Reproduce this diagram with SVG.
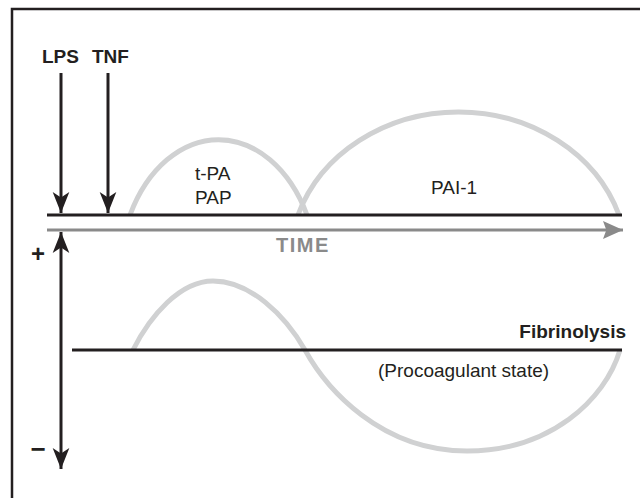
<svg xmlns="http://www.w3.org/2000/svg" width="640" height="498" viewBox="0 0 640 498">
<style>
.t{font-family:"Liberation Sans",Arial,sans-serif;fill:#231f20;font-size:19px}
.b{font-weight:bold}
.blk{stroke:#231f20;stroke-width:3;fill:none}
.gry{stroke:#8a8a8a;stroke-width:3;fill:none}
.crv{stroke:#d0d1d2;stroke-width:5;fill:none}
</style>
<defs>
<marker id="ah" markerUnits="userSpaceOnUse" markerWidth="24" markerHeight="20" viewBox="-20 -9 21 18" refX="0" refY="0" orient="auto">
<path d="M0,0 L-19,-7.5 L-14,0 L-19,7.5 Z" fill="#231f20"/>
</marker>
<marker id="gh" markerUnits="userSpaceOnUse" markerWidth="24" markerHeight="20" viewBox="-20 -9 21 18" refX="0" refY="0" orient="auto">
<path d="M0,0 L-18,-8 L-15,0 L-18,8 Z" fill="#8a8a8a"/>
</marker>
</defs>
<rect id="frame" x="12" y="9" width="640" height="500" fill="#fff" stroke="#231f20" stroke-width="2.5"/>

<g id="curves">
<path class="crv" d="M130,215 A100,141 0 0 1 307,215"/>
<path class="crv" d="M298,215 A169,150 0 0 1 619,215"/>
<path class="crv" d="M133,350 C150,316 180,281 213,281 C250,281 285,315 305,350 C326,388 380,451 467,451 C550,451 605,400 620,350"/>
</g>

<g id="connectors">
<line class="blk" x1="47" y1="215" x2="622" y2="215"/>
<line class="gry" x1="47" y1="230" x2="623" y2="230" marker-end="url(#gh)"/>
<line class="blk" x1="72" y1="350" x2="622" y2="350"/>
<line class="blk" x1="61" y1="73" x2="61" y2="213" marker-end="url(#ah)"/>
<line class="blk" x1="108" y1="73" x2="108" y2="213" marker-end="url(#ah)"/>
<line class="blk" x1="61" y1="340" x2="61" y2="232" marker-end="url(#ah)"/>
<line class="blk" x1="61" y1="340" x2="61" y2="469" marker-end="url(#ah)"/>
</g>

<g id="lps"><text class="t b" x="42" y="63">LPS</text></g>
<g id="tnf"><text class="t b" x="92" y="63">TNF</text></g>
<g id="tpa"><text class="t" x="195" y="180">t-PA</text><text class="t" x="195" y="204">PAP</text></g>
<g id="pai"><text class="t" x="431" y="194">PAI-1</text></g>
<g id="time"><text class="t b" x="276" y="252" style="fill:#8a8a8a;font-size:20px;letter-spacing:1.5px">TIME</text></g>
<g id="plus"><text class="t b" x="38" y="262" text-anchor="middle" style="font-size:24px">+</text></g>
<g id="minus"><text class="t b" x="38" y="458" text-anchor="middle" style="font-size:26px">−</text></g>
<g id="fibrinolysis"><text class="t b" x="626" y="338" text-anchor="end">Fibrinolysis</text></g>
<g id="procoag"><text class="t" x="378" y="377">(Procoagulant state)</text></g>
</svg>
